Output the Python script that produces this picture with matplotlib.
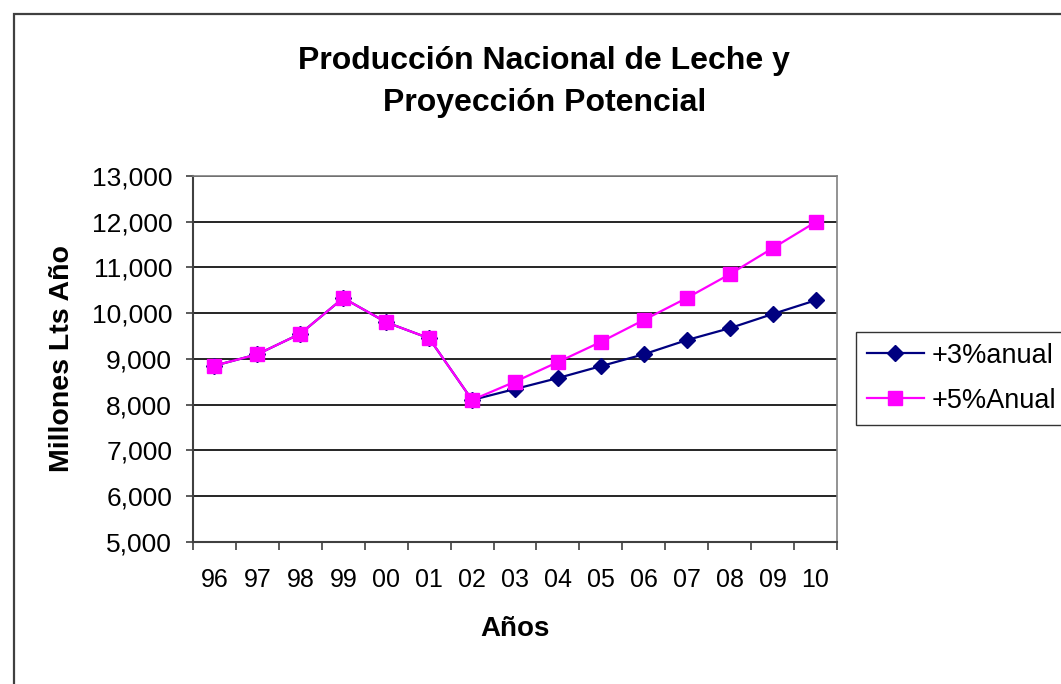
import matplotlib.pyplot as plt
from matplotlib.patches import Rectangle

plt.rcParams["font.family"] = ["Liberation Sans", "DejaVu Sans"]

YEARS = ["96", "97", "98", "99", "00", "01", "02", "03", "04", "05",
         "06", "07", "08", "09", "10"]
# historical values shared by both series, then projections
ANUAL_3 = [8850, 9100, 9550, 10330, 9800, 9450, 8100, 8340, 8580, 8840,
           9100, 9410, 9670, 9980, 10280]
ANUAL_5 = [8850, 9100, 9550, 10330, 9800, 9450, 8100, 8500, 8930, 9370,
           9850, 10330, 10850, 11420, 11990]
Y_TICKS = [5000, 6000, 7000, 8000, 9000, 10000, 11000, 12000, 13000]

fig = plt.figure(figsize=(10.61, 6.84), dpi=100)
ax = fig.add_axes([193 / 1061, 1 - 541.7 / 684, (837 - 193) / 1061, (541.7 - 176) / 684])

# outer chart border (runs off the right/bottom of the image)
fig.add_artist(Rectangle((14 / 1061, -0.05), 1.2, 1 - 14 / 684 + 0.05,
                         transform=fig.transFigure, fill=False,
                         edgecolor="#404040", linewidth=1.6))

x = list(range(len(YEARS)))
ax.plot(x, ANUAL_3, color="#000080", marker="D", markersize=8.5,
        linewidth=1.6, label="+3%anual", zorder=3)
ax.plot(x, ANUAL_5, color="#FF00FF", marker="s", markersize=10,
        linewidth=1.6, label="+5%Anual", zorder=4)

ax.set_xlim(-0.5, len(YEARS) - 0.5)
ax.set_ylim(5000, 13000)
ax.set_yticks(Y_TICKS)
ax.set_yticklabels([f"{v:,}" for v in Y_TICKS], fontsize=19)
ax.set_xticks(x)
ax.set_xticklabels(YEARS, fontsize=18)
ax.tick_params(axis="x", length=0, pad=19)
ax.set_xticks([i - 0.5 for i in range(len(YEARS) + 1)], minor=True)
ax.tick_params(axis="x", which="minor", length=6, width=1.2, color="#404040", direction="out")
ax.tick_params(axis="y", length=5, width=1.2, color="#404040", direction="out", pad=10)

ax.grid(axis="y", color="black", linewidth=1.2)
ax.set_axisbelow(True)
for side in ("top", "right"):
    ax.spines[side].set_color("#808080")
    ax.spines[side].set_linewidth(1.2)
for side in ("left", "bottom"):
    ax.spines[side].set_color("#404040")
    ax.spines[side].set_linewidth(1.5)

ax.set_xlabel("Años", fontsize=20, fontweight="bold", labelpad=17)
ax.set_ylabel("Millones Lts Año", fontsize=20.5, fontweight="bold", labelpad=12)

fig.text(0.513, 1 - 82 / 684, "Producción Nacional de Leche y\nProyección Potencial",
         ha="center", va="center", fontsize=23, fontweight="bold", linespacing=1.5)

leg = ax.legend(loc="upper left", bbox_to_anchor=(856 / 1061, 1 - 332 / 684),
                bbox_transform=fig.transFigure, fontsize=19.5, frameon=True,
                fancybox=False, edgecolor="black", handlelength=2.1,
                borderpad=0.4, labelspacing=0.7, handletextpad=0.3,
                borderaxespad=0)
leg.get_frame().set_linewidth(1.0)

fig.savefig("out.png", dpi=100)
